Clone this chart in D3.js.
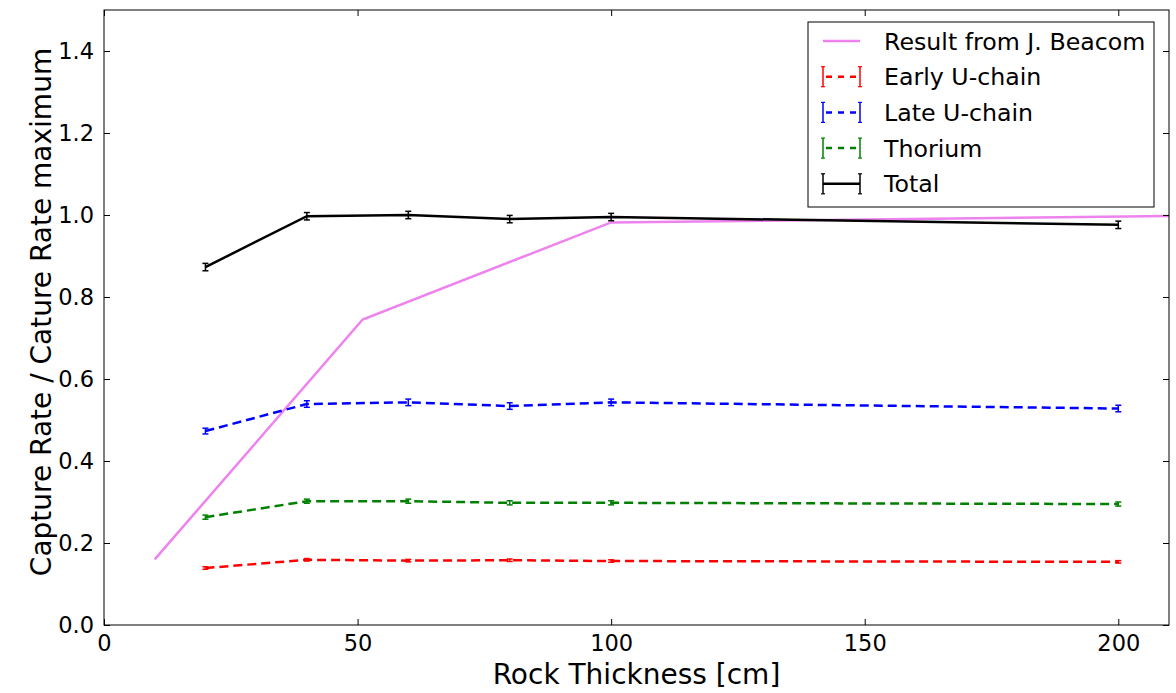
<!DOCTYPE html>
<html><head><meta charset="utf-8">
<script src="https://cdn.jsdelivr.net/npm/d3@7"></script>
<style>body{margin:0;background:#fff}svg{display:block}text{font-family:"DejaVu Sans",sans-serif}</style>
</head><body>
<svg id="c" width="1176" height="693"></svg>
<script>
const thickness = [20, 40, 60, 80, 100, 200];
const earlyU = [0.139, 0.159, 0.157, 0.158, 0.156, 0.154];
const earlyUErr = [0.003, 0.003, 0.003, 0.003, 0.003, 0.003];
const lateU = [0.473, 0.539, 0.543, 0.534, 0.543, 0.528];
const lateUErr = [0.007, 0.008, 0.008, 0.008, 0.008, 0.008];
const thorium = [0.263, 0.302, 0.302, 0.298, 0.298, 0.295];
const thoriumErr = [0.005, 0.005, 0.005, 0.005, 0.005, 0.005];
const total = [0.873, 0.997, 1.000, 0.990, 0.995, 0.976];
const totalErr = [0.009, 0.009, 0.009, 0.009, 0.009, 0.009];
const beacomX = [10, 51, 100, 215];
const beacomY = [0.160, 0.745, 0.982, 0.998];
const xTicks = [0, 50, 100, 150, 200];
const yTicks = [0.0, 0.2, 0.4, 0.6, 0.8, 1.0, 1.2, 1.4];
const legendLabels = ["Result from J. Beacom", "Early U-chain", "Late U-chain", "Thorium", "Total"];

const svg = d3.select("#c");
const L = 104, R = 1169, T = 10, B = 625;
const x = d3.scaleLinear().domain([0, 210]).range([L, R]);
const y = d3.scaleLinear().domain([0, 1.5]).range([B, T]);

svg.append("clipPath").attr("id", "clip").append("rect")
  .attr("x", L).attr("y", T).attr("width", R - L).attr("height", B - T);
const g = svg.append("g").attr("clip-path", "url(#clip)");

const line = d3.line().x(d => x(d[0])).y(d => y(d[1]));

// Beacom
g.append("path").datum(beacomX.map((v, i) => [v, beacomY[i]]))
  .attr("d", line).attr("fill", "none").attr("stroke", "#ee82ee").attr("stroke-width", 2.5);

const series = [
  {vals: earlyU, err: earlyUErr, color: "#ff0000", dash: "9,5"},
  {vals: lateU, err: lateUErr, color: "#0000ff", dash: "9,5"},
  {vals: thorium, err: thoriumErr, color: "#008000", dash: "9,5"},
  {vals: total, err: totalErr, color: "#000000", dash: null}
];
series.forEach(s => {
  const pts = thickness.map((t, i) => [t, s.vals[i]]);
  const p = g.append("path").datum(pts).attr("d", line).attr("fill", "none")
    .attr("stroke", s.color).attr("stroke-width", 2.5);
  if (s.dash) p.attr("stroke-dasharray", s.dash);
  thickness.forEach((t, i) => {
    const cx = x(t), y0 = y(s.vals[i] - s.err[i]), y1 = y(s.vals[i] + s.err[i]);
    g.append("line").attr("x1", cx).attr("x2", cx).attr("y1", y0).attr("y2", y1)
      .attr("stroke", s.color).attr("stroke-width", 1.5);
    [y0, y1].forEach(yy => g.append("line").attr("x1", cx - 3).attr("x2", cx + 3)
      .attr("y1", yy).attr("y2", yy).attr("stroke", s.color).attr("stroke-width", 1.5));
  });
});

// frame
svg.append("rect").attr("x", L).attr("y", T).attr("width", R - L).attr("height", B - T)
  .attr("fill", "none").attr("stroke", "#000").attr("stroke-width", 1);

// ticks
const axB = svg.append("g").attr("transform", `translate(0,${B})`)
  .call(d3.axisBottom(x).tickValues(xTicks).tickSize(-6).tickPadding(10).tickFormat(d3.format("d")));
const axT = svg.append("g").attr("transform", `translate(0,${T})`)
  .call(d3.axisTop(x).tickValues(xTicks).tickSize(-6).tickFormat(""));
const axL = svg.append("g").attr("transform", `translate(${L},0)`)
  .call(d3.axisLeft(y).tickValues(yTicks).tickSize(-6).tickPadding(10).tickFormat(d3.format(".1f")));
const axR = svg.append("g").attr("transform", `translate(${R},0)`)
  .call(d3.axisRight(y).tickValues(yTicks).tickSize(-6).tickFormat(""));
[axB, axT, axL, axR].forEach(a => {
  a.select(".domain").remove();
  a.selectAll("text").attr("font-size", 22.5).attr("fill", "#000").attr("font-family", "DejaVu Sans");
  a.selectAll("line").attr("stroke", "#000");
});

// labels
svg.append("text").attr("x", (L + R) / 2).attr("y", 684).attr("text-anchor", "middle")
  .attr("font-size", 28).text("Rock Thickness [cm]");
svg.append("text").attr("transform", `translate(51,312) rotate(-90)`)
  .attr("text-anchor", "middle").attr("font-size", 28).text("Capture Rate / Cature Rate maximum");

// legend
const lg = svg.append("g");
lg.append("rect").attr("x", 808).attr("y", 22).attr("width", 346).attr("height", 185)
  .attr("fill", "#fff").attr("stroke", "#000").attr("stroke-width", 1);
const lColors = ["#ee82ee", "#ff0000", "#0000ff", "#008000", "#000000"];
legendLabels.forEach((lab, i) => {
  const yy = 41 + i * 35.7;
  const c = lColors[i];
  if (i === 0) {
    lg.append("line").attr("x1", 823).attr("x2", 860).attr("y1", yy).attr("y2", yy)
      .attr("stroke", c).attr("stroke-width", 2.5);
  } else {
    const ln = lg.append("line").attr("x1", 823).attr("x2", 860).attr("y1", yy).attr("y2", yy)
      .attr("stroke", c).attr("stroke-width", 2.5);
    if (i < 4) ln.attr("stroke-dasharray", "6,6").attr("stroke-dashoffset", -3);
    [823, 860].forEach(xx => {
      lg.append("line").attr("x1", xx).attr("x2", xx).attr("y1", yy - 10).attr("y2", yy + 10)
        .attr("stroke", c).attr("stroke-width", 1.5);
      lg.append("line").attr("x1", xx - 2).attr("x2", xx + 2).attr("y1", yy - 10).attr("y2", yy - 10)
        .attr("stroke", c).attr("stroke-width", 1.2);
      lg.append("line").attr("x1", xx - 2).attr("x2", xx + 2).attr("y1", yy + 10).attr("y2", yy + 10)
        .attr("stroke", c).attr("stroke-width", 1.2);
    });
  }
  lg.append("text").attr("x", 884).attr("y", yy + 8.5).attr("font-size", 23.7).text(lab);
});
</script>
</body></html>
